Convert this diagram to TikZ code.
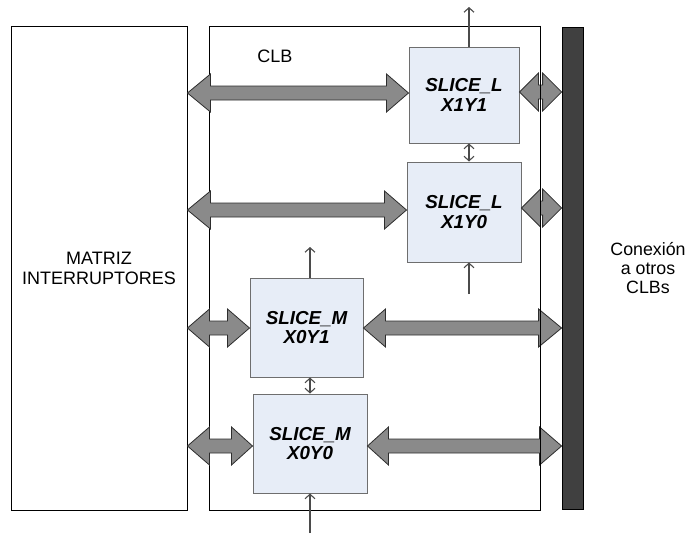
\documentclass[tikz,border=0pt]{standalone}
\usepackage{fontspec}
\setmainfont{Liberation Sans}
\usetikzlibrary{arrows.meta,calc}

\definecolor{slicefill}{RGB}{231,237,247}
\definecolor{sliceline}{RGB}{110,110,110}
\definecolor{busfill}{RGB}{138,138,138}
\definecolor{busline}{RGB}{45,45,45}
\definecolor{barfill}{RGB}{64,64,64}
\definecolor{sigline}{RGB}{75,75,75}

% Fat bidirectional bus arrow between two points on the same level.
% #1 left end, #2 right end, #3 left head length, #4 right head length
\newcommand\busarrow[4]{%
  \path (#1) coordinate (bl) (#2) coordinate (br);
  \filldraw[bus] (bl) -- ($(bl)+(#3,-19)$) -- ($(bl)+(#3,-7)$)
    -- ($(br)+(-#4,-7)$) -- ($(br)+(-#4,-19)$) -- (br)
    -- ($(br)+(-#4,19)$) -- ($(br)+(-#4,7)$)
    -- ($(bl)+(#3,7)$) -- ($(bl)+(#3,19)$) -- cycle;}

\tikzset{
  outerbox/.style={draw=black, line width=0.9pt, inner sep=0pt},
  slicebox/.style={draw=sliceline, fill=slicefill, line width=1pt, inner sep=0pt,
    align=center, font=\fontsize{18.8}{19.5}\selectfont\bfseries\itshape},
  bus/.style={fill=busfill, draw=busline, line width=0.8pt, line join=miter},
  sig/.style={draw=sigline, line width=1.1pt},
  lbl/.style={align=center, inner sep=0pt, font=\fontsize{18}{20}\selectfont},
}

\begin{document}
\begin{tikzpicture}[x=1pt, y=-1pt, >={Straight Barb[length=4.5pt,width=10pt]}]
\useasboundingbox (0,0) rectangle (691,533);

% levels of the bus arrows
\coordinate (L1) at (0,93);
\coordinate (L2) at (0,210);
\coordinate (L3) at (0,328);
\coordinate (L4) at (0,446);
\coordinate (S1) at (0,92);
\coordinate (S2) at (0,208);
% columns of the carry signals
\coordinate (cL) at (469,0);
\coordinate (cM) at (310,0);

% switch matrix and CLB outline
\node[outerbox, lbl, minimum width=176pt, minimum height=484pt] (mat) at (99,268)
  {MATRIZ\\INTERRUPTORES};
\node[outerbox, minimum width=331pt, minimum height=484pt] (clb) at (374.5,268) {};
\node[lbl, anchor=center] (clbname) at (275,56) {CLB};

% slices
\node[slicebox, minimum width=110pt, minimum height=96pt] (s11) at (464,95) {SLICE\_L\\X1Y1};
\node[slicebox, minimum width=114pt, minimum height=100pt] (s10) at (464,212) {SLICE\_L\\X1Y0};
\node[slicebox, minimum width=113pt, minimum height=99pt] (m1) at (306.5,327.5) {SLICE\_M\\X0Y1};
\node[slicebox, minimum width=114pt, minimum height=99pt] (m0) at (310,443.5) {SLICE\_M\\X0Y0};

% interconnect bar to neighbouring CLBs
\node[draw=black, fill=barfill, line width=0.8pt, inner sep=0pt,
  minimum width=21pt, minimum height=482pt] (bar) at (572.5,268) {};
\node[lbl, font=\fontsize{17.8}{19.2}\selectfont] (conn) at (648,268) {Conexión\\a otros\\CLBs};

% buses from the switch matrix to the slices
\busarrow{mat.east|-L1}{s11.west|-L1}{23}{22}
\busarrow{mat.east|-L2}{s10.west|-L2}{23}{22}
\busarrow{mat.east|-L3}{m1.west|-L3}{22}{22}
\busarrow{mat.east|-L4}{m0.west|-L4}{22}{21}

% buses from the slices to the interconnect bar
\busarrow{m1.east|-L3}{bar.west|-L3}{22}{23}
\busarrow{m0.east|-L4}{bar.west|-L4}{21}{22}
\busarrow{s11.east|-S1}{bar.west|-S1}{19}{19}
\busarrow{s10.east|-S2}{bar.west|-S2}{19}{19}

% right edge of the CLB runs over the short buses
\draw[line width=0.9pt] (clb.north east) -- (clb.south east);

% carry chain, SLICE_L column
\coordinate (tL) at (469,7);
\coordinate (bL) at (469,294);
\draw[sig,->] (s11.north-|cL) -- (tL);
\draw[sig,<->] (s11.south-|cL) -- (s10.north-|cL);
\draw[sig,->] (bL) -- (s10.south-|cL);

% carry chain, SLICE_M column
\coordinate (tM) at (310,247);
\coordinate (bM) at (310,533);
\draw[sig,->] (m1.north-|cM) -- (tM);
\draw[sig,<->] (m1.south-|cM) -- (m0.north-|cM);
\draw[sig,->] (bM) -- (m0.south-|cM);
\end{tikzpicture}
\end{document}
